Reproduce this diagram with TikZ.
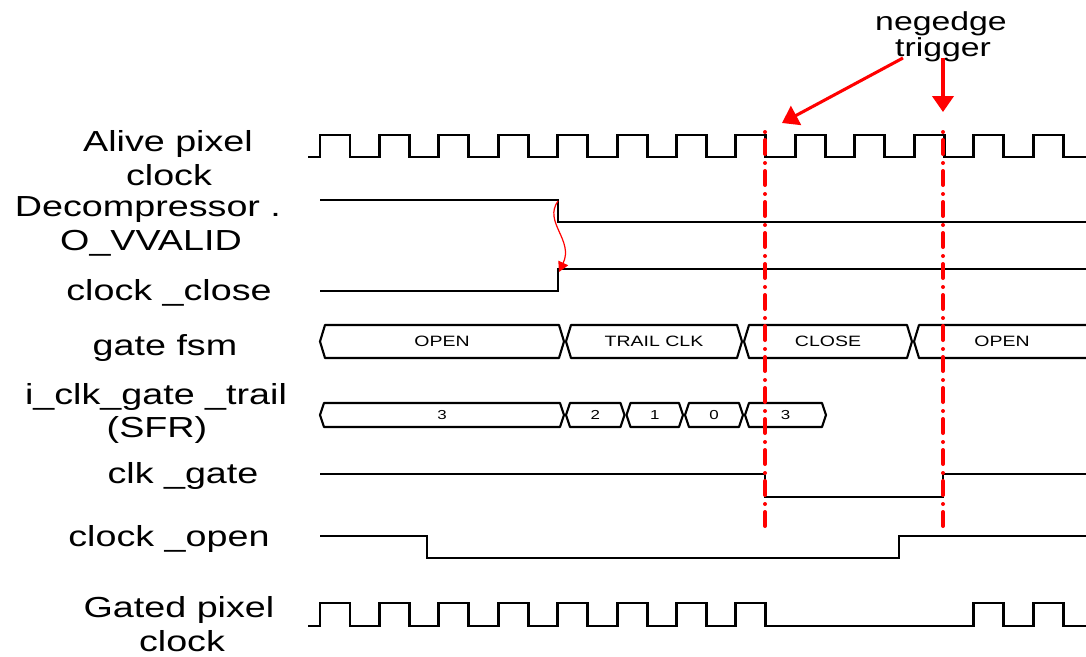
\documentclass[tikz,border=0pt]{standalone}
\usepackage{fontspec}
\setmainfont{Liberation Sans}[FakeStretch=1.3]
\usetikzlibrary{arrows.meta}
\definecolor{sigred}{RGB}{255,0,0}
\begin{document}
\begin{tikzpicture}[x=0.75pt,y=-0.75pt,
  lbl/.style={font=\fontsize{21.75}{26}\selectfont, anchor=base, inner sep=0pt},
  ttl/.style={font=\fontsize{19.5}{23}\selectfont, anchor=base, inner sep=0pt},
  bustxt/.style={font=\fontsize{11.25}{13}\selectfont, inner sep=0pt},
  numtxt/.style={font=\fontsize{9.75}{12}\selectfont, inner sep=0pt},
  clk/.style={line width=2.2pt, line join=miter},
  sig/.style={line width=1.7pt, line join=miter},
  bus/.style={line width=1.6pt, line join=round},
  marker/.style={sigred, line width=3pt, line cap=round, dash pattern=on 0pt off 6pt on 10.5pt off 6.75pt},
  redarrow/.style={sigred, line width=2.3pt, -{Triangle[length=12pt,width=16pt]}},
  thinarrow/.style={sigred, line width=0.9pt, -{Triangle[length=7.5pt,width=8pt]}}
]
\useasboundingbox (0,0) rectangle (1086,657);

% labels
\node[lbl] (lalive) at (168,151) {Alive pixel};
\node[lbl] (lalive2) at (169,185) {clock};
\node[lbl] (ldec) at (148,216) {Decompressor .};
\node[lbl] (ldec2) at (151,250) {O\_VVALID};
\node[lbl] (lclose) at (169,300) {clock \_close};
\node[lbl] (lfsm) at (165,355) {gate fsm};
\node[lbl] (ltrail) at (156,404) {i\_clk\_gate \_trail};
\node[lbl] (lsfr) at (157,437) {(SFR)};
\node[lbl] (lgate) at (183,483) {clk \_gate};
\node[lbl] (lopen) at (169,546) {clock \_open};
\node[lbl] (lgated) at (179,617) {Gated pixel};
\node[lbl] (lgated2) at (182,651) {clock};

\node[ttl] (neg) at (941,30) {negedge};
\node[ttl] (trig) at (943,56) {trigger};

% alive pixel clock
\draw[clk] (308,157) \foreach \k in {0,...,12}{ -- ({320+59.42*\k},157) -- ({320+59.42*\k},135) -- ({350+59.42*\k},135) -- ({350+59.42*\k},157)} -- (1086,157);

% Decompressor.O_VVALID
\draw[sig] (320,200) -- (558,200) -- (558,222) -- (1086,222);
% clock_close
\draw[sig] (320,291) -- (558,291) -- (558,269) -- (1086,269);

% gate fsm bus
\foreach \a/\b/\t [count=\i] in {320/564/OPEN, 566/742/TRAIL CLK, 744/912/CLOSE} {
  \draw[bus] (\a,341.5) -- (\a+5,325) -- (\b-5,325) -- (\b,341.5) -- (\b-5,358) -- (\a+5,358) -- cycle;
  \node[bustxt] (fsm\i) at ({(\a+\b)/2},341.5) {\t};
}
\draw[bus] (1086,325) -- (919,325) -- (914,341.5) -- (919,358) -- (1086,358);
\node[bustxt] (fsm4) at (1002,341.5) {OPEN};

% i_clk_gate_trail bus
\foreach \a/\b/\t [count=\i] in {320/564/3, 566/624.5/2, 626.5/683/1, 685/743/0, 745/826/3} {
  \draw[bus] (\a,415) -- (\a+4,403) -- (\b-4,403) -- (\b,415) -- (\b-4,427) -- (\a+4,427) -- cycle;
  \node[numtxt] (trl\i) at ({(\a+\b)/2},415) {\t};
}

% clk_gate
\draw[sig] (320,474) -- (765,474) -- (765,497) -- (943,497) -- (943,474) -- (1086,474);
% clock_open
\draw[sig] (320,536) -- (427,536) -- (427,558) -- (899,558) -- (899,536) -- (1086,536);

% gated pixel clock
\draw[clk] (308,626) \foreach \k in {0,...,7}{ -- ({320+59.42*\k},626) -- ({320+59.42*\k},603) -- ({350+59.42*\k},603) -- ({350+59.42*\k},626)}
  \foreach \k in {11,12}{ -- ({320+59.42*\k},626) -- ({320+59.42*\k},603) -- ({350+59.42*\k},603) -- ({350+59.42*\k},626)} -- (1086,626);

% red markers
\coordinate (m1t) at (765,132);
\coordinate (m1b) at (765,528);
\coordinate (m2t) at (943,132);
\coordinate (m2b) at (943,528);
\draw[marker] (m1t) -- (m1b);
\draw[marker] (m2t) -- (m2b);

% arrows
\coordinate (a1s) at (903,58);
\coordinate (a1e) at (782,123);
\coordinate (a2s) at (943,58);
\coordinate (a2e) at (943,112);
\draw[redarrow] (a1s) -- (a1e);
\draw[redarrow] (a2s) -- (a2e);

\coordinate (cs) at (558,201);
\coordinate (ce) at (559,272);
\draw[thinarrow] (cs) .. controls (543,222) and (574,240) .. (ce);
\end{tikzpicture}
\end{document}
